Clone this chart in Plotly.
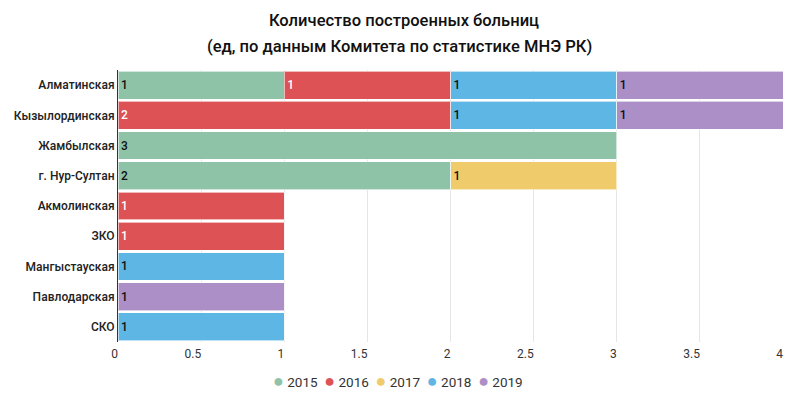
import plotly.graph_objects as go

regions = ["Алматинская", "Кызылординская", "Жамбылская", "г. Нур-Султан",
           "Акмолинская", "ЗКО", "Мангыстауская", "Павлодарская", "СКО"]
years = ["2015", "2016", "2017", "2018", "2019"]
v2015 = [1, None, 3, 2, None, None, None, None, None]
v2016 = [1, 2, None, None, 1, 1, None, None, None]
v2017 = [None, None, None, 1, None, None, None, None, None]
v2018 = [1, 1, None, None, None, None, 1, None, 1]
v2019 = [1, 1, None, None, None, None, None, 1, None]
series = [v2015, v2016, v2017, v2018, v2019]
colors = ["#8ec3a7", "#dd5355", "#f0cb6b", "#5db6e4", "#ab8fc6"]
text_colors = ["#111111", "#ffffff", "#111111", "#111111", "#111111"]

title_line1 = "Количество построенных больниц"
title_line2 = "(ед, по данным Комитета по статистике МНЭ РК)"

MED = "Roboto Medium, Roboto"

fig = go.Figure()
for yr, vals, c, tc in zip(years, series, colors, text_colors):
    fig.add_trace(go.Bar(
        y=regions, x=vals, orientation="h", name=yr,
        marker=dict(color=c, line=dict(color="rgba(255,255,255,0.6)", width=1)),
        text=[("" if v is None else str(v)) for v in vals],
        textposition="inside", insidetextanchor="start",
        textfont=dict(family=MED, size=12, color=tc),
        constraintext="none",
        showlegend=False, hoverinfo="x+y+name",
    ))

# second title line
fig.add_annotation(
    text=title_line2, xref="paper", yref="paper", x=0.424, y=1.0846,
    xanchor="center", yanchor="middle", showarrow=False,
    font=dict(family=MED, size=16.5, color="#111111"),
)

# legend drawn as text: coloured dots followed by year labels
legend_html = "&nbsp;&nbsp;".join(
    f"<span style='color:{c};font-size:18px'>●</span> {yr}" for yr, c in zip(years, colors)
)
fig.add_annotation(
    text=legend_html, xref="paper", yref="paper", x=0.421, y=-0.143,
    xanchor="center", yanchor="middle", showarrow=False,
    font=dict(family="Roboto", size=13.5, color="#333333"),
)

fig.update_layout(
    width=792, height=389,
    barmode="stack", bargap=0.08,
    paper_bgcolor="white", plot_bgcolor="white",
    margin=dict(l=110, r=17, t=62, b=55),
    title=dict(
        text=title_line1,
        x=0.5, xanchor="center", y=0.969, yanchor="middle",
        font=dict(family=MED, size=16.5, color="#111111"),
    ),
    font=dict(family="Roboto", size=12, color="#333333"),
    showlegend=False,
)
fig.update_xaxes(range=[0, 4], dtick=0.5, showgrid=True, gridcolor="#e6e6e6",
                 zeroline=False, showline=False, ticks="", automargin=False,
                 ticklabelposition="outside left", ticklabelstandoff=3,
                 tickfont=dict(size=12, color="#333333"),
                 fixedrange=True)
fig.update_yaxes(autorange="reversed", showline=True, linecolor="#333333", linewidth=1,
                 ticks="", automargin=False,
                 tickfont=dict(family=MED, size=12, color="#222222"), fixedrange=True)

fig.write_html("out.html")
